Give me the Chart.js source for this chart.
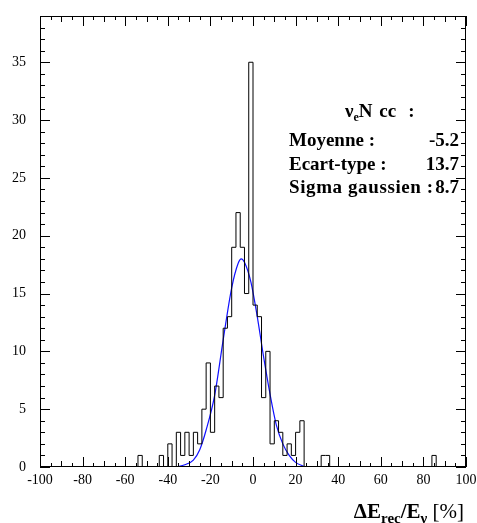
<!DOCTYPE html>
<html>
<head>
<meta charset="utf-8">
<script src="https://cdn.jsdelivr.net/npm/chart.js@4.4.1/dist/chart.umd.min.js"></script>
<style>
  html, body { margin: 0; padding: 0; background: #fff; }
  #wrap { position: relative; width: 477px; height: 523px; }
  #chart { position: absolute; left: 0; top: 0; }
  .txt { position: absolute; font-family: "Liberation Serif", "Times New Roman", serif; color: #000; white-space: nowrap; }
  .stat { font-weight: bold; font-size: 19px; line-height: 24px; }
  .row { left: 289px; width: 170px; display: flex; justify-content: space-between; }
  .stat sub { font-size: 12px; vertical-align: -4px; line-height: 0; }
  .head { word-spacing: 2px; }
  .head .colon { margin-left: 12px; }
  .wide { letter-spacing: 0.6px; }
  .xtitle { right: 13px; top: 499px; font-size: 21px; font-weight: bold; }
  .xtitle sub { font-size: 15px; vertical-align: -5px; line-height: 0; }
  .xtitle .unit { font-weight: normal; }
</style>
</head>
<body>
<div id="wrap">
  <canvas id="chart" width="477" height="523"></canvas>
  <div class="txt stat head" style="left:345px; top:99px;">ν<sub>e</sub>N cc<span class="colon">:</span></div>
  <div class="txt stat row" style="top:128px;"><span>Moyenne :</span><span>-5.2</span></div>
  <div class="txt stat row" style="top:152px;"><span>Ecart-type :</span><span>13.7</span></div>
  <div class="txt stat row" style="top:175px;"><span class="wide">Sigma gaussien :</span><span>8.7</span></div>
  <div class="txt xtitle">ΔE<sub>rec</sub>/E<sub>ν</sub> <span class="unit">[%]</span></div>
</div>
<script>
// Istogramma: bin da 2 unità, solo i bin non vuoti
const xMin = -100, xMax = 100, binWidth = 2;
const yMin = 0, yMax = 39;
const binStart = [-54, -44, -40, -36, -34, -32, -30, -28, -26, -24, -22, -20, -18, -16, -14, -12, -10, -8, -6, -4, -2,
  0, 2, 4, 6, 8, 10, 12, 14, 16, 18, 20, 22, 32, 34, 84];
const binCount = [1, 1, 2, 3, 1, 3, 1, 3, 2, 5, 9, 3, 7, 6, 12, 13, 19, 22, 19, 15, 35,
  14, 13, 6, 10, 2, 4, 3, 1, 2, 1, 3, 4, 1, 1, 1];

// Curva gaussiana
const fitX = [-36, -32, -28, -25, -22, -18, -14, -10, -7, -5.5, -4, -1, 2, 5, 8, 11, 14, 17, 20, 24];
const fitY = [0, 0.2, 0.6, 1.5, 3.2, 6.2, 11, 15.5, 17.6, 18, 17.7, 16, 13, 9.5, 6.3, 3.6, 2.0, 1.0, 0.4, 0.05];

// Tacche degli assi
const xLabelStep = 20, xTickStep = 5;
const yLabelStep = 5, yTickStep = 1;

// Costruzione della serie a gradini
const histPoints = [];
for (let e = xMin; e < xMax; e += binWidth) {
  const i = binStart.indexOf(e);
  histPoints.push({ x: e, y: i >= 0 ? binCount[i] : 0 });
}
histPoints.push({ x: xMax, y: 0 });

const fitPoints = fitX.map((v, i) => ({ x: v, y: fitY[i] }));

const font = { family: "'Liberation Serif', 'Times New Roman', serif", size: 14 };

// Cornice e tacche rivolte verso l'interno
const frameTicks = {
  id: "frameTicks",
  afterDraw(chart) {
    const { ctx, chartArea: a, scales: { x, y } } = chart;
    ctx.save();
    ctx.strokeStyle = "#000";
    ctx.lineWidth = 1;
    ctx.strokeRect(a.left + 0.5, a.top + 0.5, a.right - a.left - 1, a.bottom - a.top - 1);
    ctx.beginPath();
    for (let v = xMin; v <= xMax; v += xTickStep) {
      const len = v % xLabelStep === 0 ? 10 : v % 10 === 0 ? 6 : 4;
      const px = Math.round(x.getPixelForValue(v)) + 0.5;
      ctx.moveTo(px, a.bottom);
      ctx.lineTo(px, a.bottom - len);
      ctx.moveTo(px, a.top);
      ctx.lineTo(px, a.top + len);
    }
    for (let v = yMin; v <= yMax; v += yTickStep) {
      const len = v % yLabelStep === 0 ? 10 : 5;
      const py = Math.round(y.getPixelForValue(v)) + 0.5;
      ctx.moveTo(a.left, py);
      ctx.lineTo(a.left + len, py);
      ctx.moveTo(a.right, py);
      ctx.lineTo(a.right - len, py);
    }
    ctx.stroke();
    ctx.restore();
  },
};

new Chart(document.getElementById("chart"), {
  type: "line",
  data: {
    datasets: [
      {
        data: histPoints,
        borderColor: "#000",
        borderWidth: 1,
        stepped: true,
        pointRadius: 0,
        fill: false,
      },
      {
        data: fitPoints,
        borderColor: "#1010ff",
        borderWidth: 1.2,
        cubicInterpolationMode: "monotone",
        pointRadius: 0,
        fill: false,
      },
    ],
  },
  options: {
    responsive: false,
    animation: false,
    devicePixelRatio: 1,
    layout: { padding: { top: 16, right: 11, left: 0, bottom: 0 } },
    plugins: { legend: { display: false }, tooltip: { enabled: false } },
    scales: {
      x: {
        type: "linear",
        min: xMin,
        max: xMax,
        grid: { display: false, drawTicks: false },
        border: { display: false },
        ticks: {
          stepSize: xLabelStep,
          autoSkip: false,
          maxRotation: 0,
          padding: 5,
          color: "#000",
          font: font,
        },
        afterFit(s) {
          s.height = 56;
          s.paddingLeft = 0;
          s.paddingRight = 0;
        },
      },
      y: {
        type: "linear",
        min: yMin,
        max: yMax,
        grid: { display: false, drawTicks: false },
        border: { display: false },
        ticks: {
          stepSize: yLabelStep,
          padding: 14,
          color: "#000",
          font: font,
          callback: (v) => (v % yLabelStep === 0 ? v : ""),
        },
        afterFit(s) {
          s.width = 40;
          s.paddingTop = 0;
          s.paddingBottom = 0;
        },
      },
    },
  },
  plugins: [frameTicks],
});
</script>
</body>
</html>
